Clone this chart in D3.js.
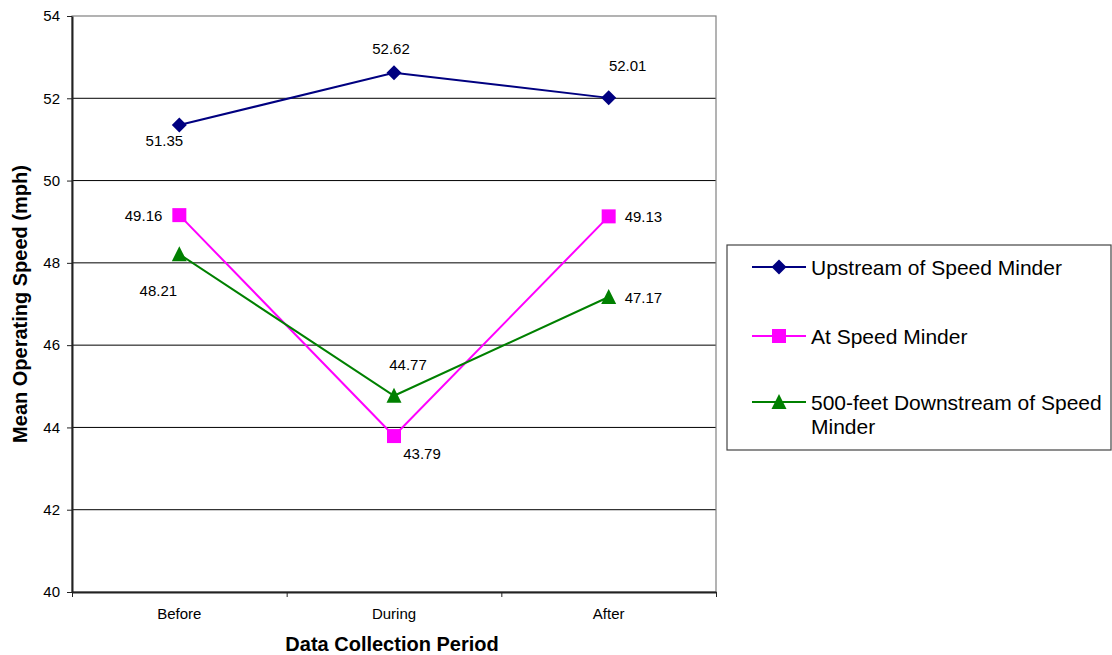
<!DOCTYPE html>
<html>
<head>
<meta charset="utf-8">
<script src="https://cdn.jsdelivr.net/npm/d3@7"></script>
<style>
  html, body { margin: 0; padding: 0; background: #fff; }
  svg { display: block; font-family: "Liberation Sans", Arial, sans-serif; }
</style>
</head>
<body>
<svg id="chart" width="1112" height="655"></svg>
<script>
// Periods along the x axis
const periods = ["Before", "During", "After"];

// Mean operating speed (mph) for each measurement location
const upstream = [51.35, 52.62, 52.01];
const atMinder = [49.16, 43.79, 49.13];
const downstream = [48.21, 44.77, 47.17];

const seriesNames = [
  "Upstream of Speed Minder",
  "At Speed Minder",
  "500-feet Downstream of Speed Minder"
];

const yTickValues = [40, 42, 44, 46, 48, 50, 52, 54];

// Styling per series
const seriesStyle = [
  { color: "#000080", marker: "diamond" },
  { color: "#FF00FF", marker: "square" },
  { color: "#008000", marker: "triangle" }
];

// Where each value label sits relative to its point: [dx, dy, anchor]
const labelPlacement = [
  [[-15, 21, "middle"], [-3, -19, "middle"], [19, -27, "middle"]],
  [[-17, 6, "end"], [28, 23, "middle"], [16, 6, "start"]],
  [[-21, 42, "middle"], [14, -26, "middle"], [16, 6, "start"]]
];

const seriesValues = [upstream, atMinder, downstream];

const svg = d3.select("#chart");
const plot = { left: 72, right: 716, top: 16, bottom: 592 };

const x = d3.scaleBand().domain(periods).range([plot.left, plot.right]);
const xc = d => x(d) + x.bandwidth() / 2;
const y = d3.scaleLinear().domain([40, 54]).range([plot.bottom, plot.top]);

// Horizontal gridlines
svg.append("g")
  .selectAll("line")
  .data(yTickValues.filter(v => v > 40 && v < 54))
  .join("line")
  .attr("x1", plot.left).attr("x2", plot.right)
  .attr("y1", d => y(d)).attr("y2", d => y(d))
  .attr("stroke", "#000").attr("stroke-width", 1);

// Plot area frame
svg.append("rect")
  .attr("x", plot.left).attr("y", plot.top)
  .attr("width", plot.right - plot.left).attr("height", plot.bottom - plot.top)
  .attr("fill", "none").attr("stroke", "#808080").attr("stroke-width", 1.2);

// Y axis
const yAxis = svg.append("g")
  .attr("transform", `translate(${plot.left},0)`)
  .call(d3.axisLeft(y).tickValues(yTickValues).tickSize(5).tickPadding(7).tickSizeOuter(0));
yAxis.select(".domain").attr("stroke", "#222").attr("stroke-width", 2);
yAxis.selectAll(".tick line").attr("stroke", "#222");
yAxis.selectAll(".tick text")
  .attr("font-size", 15).attr("fill", "#000")
  .attr("font-family", "Liberation Sans, Arial, sans-serif");

// X axis: category labels centred in bands, tick marks on band edges
const xAxis = svg.append("g")
  .attr("transform", `translate(0,${plot.bottom})`)
  .call(d3.axisBottom(x).tickSize(0).tickPadding(16).tickSizeOuter(0));
xAxis.select(".domain").attr("stroke", "#222").attr("stroke-width", 2);
xAxis.selectAll(".tick text")
  .attr("font-size", 15).attr("fill", "#000")
  .attr("font-family", "Liberation Sans, Arial, sans-serif");

const edges = d3.scaleLinear().domain([0, periods.length]).range([plot.left, plot.right]);
const edgeAxis = svg.append("g")
  .attr("transform", `translate(0,${plot.bottom})`)
  .call(d3.axisBottom(edges).tickValues(d3.range(periods.length + 1)).tickFormat("").tickSize(5).tickSizeOuter(0));
edgeAxis.select(".domain").remove();
edgeAxis.selectAll(".tick line").attr("stroke", "#222");

// Axis titles
svg.append("text")
  .attr("x", (plot.left + plot.right) / 2 - 2).attr("y", 651)
  .attr("text-anchor", "middle")
  .attr("font-size", 20).attr("font-weight", "bold")
  .text("Data Collection Period");

svg.append("text")
  .attr("transform", `translate(27,${(plot.top + plot.bottom) / 2}) rotate(-90)`)
  .attr("text-anchor", "middle")
  .attr("font-size", 20).attr("font-weight", "bold")
  .text("Mean Operating Speed (mph)");

// Marker shapes
function markerPath(kind) {
  if (kind === "diamond") return "M0,-7.5L7.5,0L0,7.5L-7.5,0Z";
  if (kind === "square") return "M-7,-7H7V7H-7Z";
  return "M0,-8L7.5,7L-7.5,7Z";
}

const line = d3.line().x((d, i) => xc(periods[i])).y(d => y(d));

seriesValues.forEach((vals, s) => {
  const st = seriesStyle[s];
  const g = svg.append("g");
  g.append("path")
    .datum(vals)
    .attr("d", line)
    .attr("fill", "none")
    .attr("stroke", st.color)
    .attr("stroke-width", 2);
  g.selectAll("path.mk")
    .data(vals)
    .join("path")
    .attr("class", "mk")
    .attr("transform", (d, i) => `translate(${xc(periods[i])},${y(d)})`)
    .attr("d", markerPath(st.marker))
    .attr("fill", st.color);
});

// Value labels
seriesValues.forEach((vals, s) => {
  svg.append("g")
    .selectAll("text")
    .data(vals)
    .join("text")
    .attr("x", (d, i) => xc(periods[i]) + labelPlacement[s][i][0])
    .attr("y", (d, i) => y(d) + labelPlacement[s][i][1])
    .attr("text-anchor", (d, i) => labelPlacement[s][i][2])
    .attr("font-size", 15)
    .attr("fill", "#000")
    .text(d => d.toFixed(2));
});

// Legend
const legend = svg.append("g");
legend.append("rect")
  .attr("x", 727).attr("y", 245)
  .attr("width", 384).attr("height", 205)
  .attr("fill", "#fff").attr("stroke", "#444").attr("stroke-width", 1.2);

const legendRowY = [267, 336, 402];
seriesNames.forEach((name, s) => {
  const st = seriesStyle[s];
  const ry = legendRowY[s];
  legend.append("line")
    .attr("x1", 752).attr("x2", 806)
    .attr("y1", ry).attr("y2", ry)
    .attr("stroke", st.color).attr("stroke-width", 2);
  legend.append("path")
    .attr("transform", `translate(779,${ry})`)
    .attr("d", markerPath(st.marker))
    .attr("fill", st.color);
  const t = legend.append("text")
    .attr("x", 811).attr("y", ry + 7.5)
    .attr("font-size", 21).attr("fill", "#000");
  if (s === 2) {
    t.append("tspan").attr("x", 811).text("500-feet Downstream of Speed");
    t.append("tspan").attr("x", 811).attr("dy", 24).text("Minder");
  } else {
    t.text(name);
  }
});
</script>
</body>
</html>
